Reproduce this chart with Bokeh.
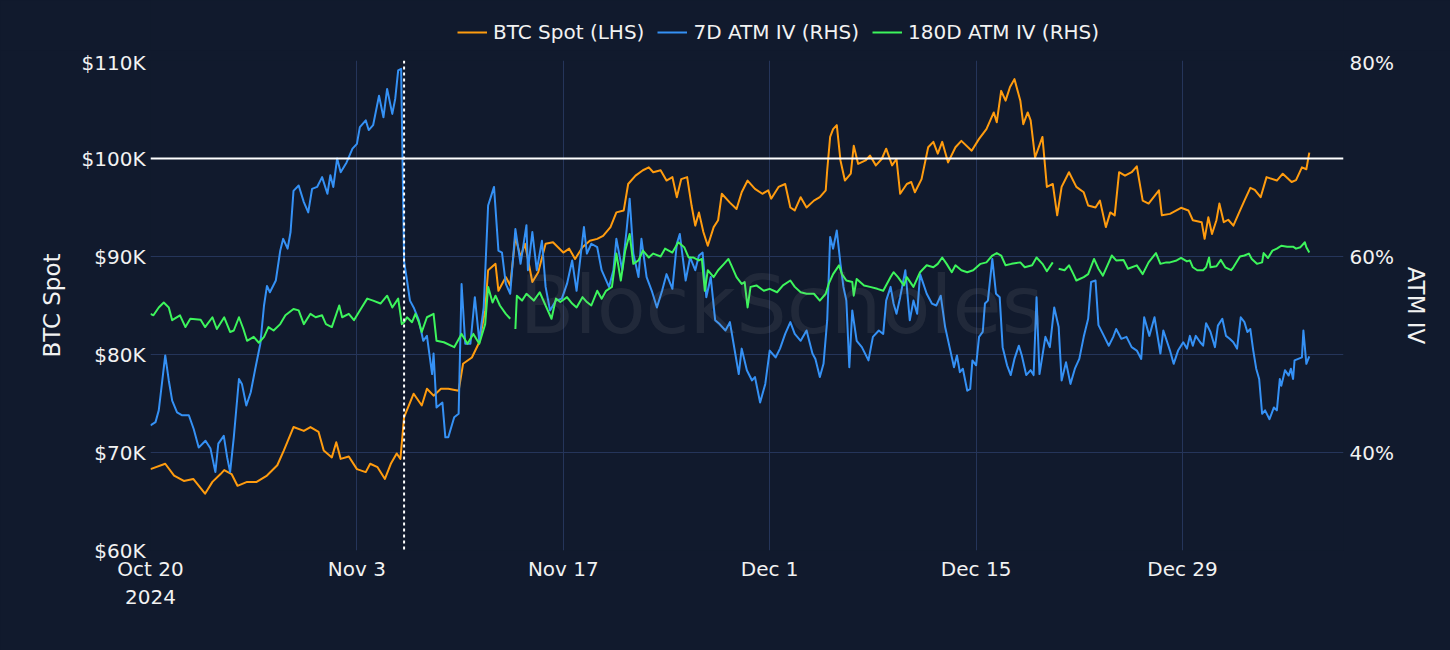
import numpy as np
import pandas as pd
from bokeh.plotting import figure
from bokeh.layouts import column
from bokeh.models import (Range1d, LinearAxis, FixedTicker, PrintfTickFormatter,
                          Span, Legend, LegendItem, Label, ColumnDataSource)
from bokeh.embed import file_html
from bokeh.resources import INLINE

# ---------------- data ----------------
START = "2024-10-20"   # day 0

spot_days = [0.0, 1.0, 1.6, 2.26, 2.9, 3.7, 4.2, 4.75, 5.0, 5.5, 5.9, 6.55, 7.2, 7.9, 8.6, 9.04, 9.7,
             10.4, 10.85, 11.4, 11.75, 12.3, 12.6, 12.9, 13.45, 14.0, 14.6, 14.9, 15.4, 15.9, 16.3,
             16.7, 16.95, 17.2, 17.85, 18.4, 18.75, 19.2, 19.7, 20.2, 20.9, 21.2, 21.8, 22.3, 22.7,
             22.9, 23.4, 23.6, 24.1, 24.4, 24.75, 25.1, 25.4, 25.9, 26.3, 26.8, 27.3, 28.0, 28.4,
             28.8, 29.3, 29.8, 30.3, 30.7, 31.2, 31.6, 32.1, 32.4, 32.9, 33.4, 33.8, 34.1, 34.6,
             35.0, 35.4, 35.7, 36.0, 36.4, 36.7, 36.95, 37.2, 37.5, 37.8, 38.2, 38.5, 38.75, 39.3,
             39.75, 40.1, 40.5, 41.0, 41.5, 41.9, 42.1, 42.6, 43.05, 43.4, 43.7, 44.1, 44.5, 45.0,
             45.4, 45.8, 45.9, 46.1, 46.3, 46.55, 46.8, 47.1, 47.5, 47.7, 48.0, 48.5, 48.8, 49.2,
             49.6, 49.9, 50.3, 50.6, 50.85, 51.3, 51.6, 51.85, 52.3, 52.75, 53.1, 53.4, 53.7, 54.1,
             54.6, 55.0, 55.7, 56.2, 56.7, 57.2, 57.4, 57.7, 58.0, 58.3, 58.6, 59.0, 59.2, 59.5,
             59.7, 60.0, 60.5, 60.8, 61.2, 61.5, 61.8, 62.3, 62.8, 63.3, 63.6, 64.1, 64.4, 64.8,
             65.1, 65.4, 65.7, 66.1, 66.55, 66.9, 67.3, 67.7, 68.4, 68.6, 69.15, 69.9, 70.4, 70.7,
             71.3, 71.5, 71.75, 72.0, 72.3, 72.5, 72.8, 73.1, 73.45, 73.8, 74.2, 74.6, 74.9, 75.3,
             75.7, 76.4, 76.8, 77.4, 77.7, 78.1, 78.4, 78.6]
spot_k = [68.3, 68.85, 67.65, 67.1, 67.3, 65.8, 67.0, 67.8, 68.2, 67.8, 66.6, 67.0, 67.0, 67.65, 68.7,
          70.2, 72.6, 72.2, 72.6, 72.1, 70.2, 69.5, 71.05, 69.35, 69.6, 68.3, 68.0, 68.85, 68.5,
          67.3, 68.85, 69.9, 69.35, 73.6, 76.0, 74.8, 76.5, 75.8, 76.5, 76.5, 76.3, 79.05, 79.7,
          81.25, 84.5, 88.6, 89.25, 86.5, 87.9, 87.05, 92.0, 89.95, 91.3, 87.4, 88.4, 91.3, 91.45,
          90.4, 90.8, 89.75, 90.95, 91.6, 91.8, 92.1, 93.0, 94.5, 94.7, 97.4, 98.25, 98.8, 99.1,
          98.6, 98.8, 97.75, 98.1, 96.05, 97.9, 98.1, 95.2, 93.15, 94.5, 92.5, 91.1, 93.0, 93.7,
          96.4, 95.5, 94.85, 96.55, 97.75, 96.9, 96.4, 96.75, 95.9, 97.1, 97.4, 95.0, 94.7, 96.05,
          95.0, 95.7, 96.05, 96.75, 98.8, 102.2, 103.0, 103.4, 99.8, 97.75, 98.45, 101.3, 99.45,
          99.8, 100.3, 99.3, 99.95, 101.0, 99.3, 99.95, 96.4, 97.4, 97.6, 96.55, 97.9, 101.15,
          101.7, 100.5, 101.7, 99.6, 101.15, 101.8, 100.8, 102.0, 103.0, 104.7, 103.7, 106.9,
          105.9, 107.3, 108.1, 105.9, 103.5, 104.7, 103.9, 100.1, 102.2, 97.1, 97.4, 94.2, 97.1,
          98.6, 97.1, 96.55, 95.2, 95.0, 95.7, 93.0, 94.5, 94.2, 98.6, 98.25, 98.6, 99.2, 95.7,
          95.4, 96.75, 94.2, 94.35, 94.97, 94.7, 93.7, 93.5, 91.8, 94.0, 92.3, 93.7, 95.4, 93.5,
          93.75, 93.15, 94.35, 95.7, 97.0, 96.8, 96.05, 98.1, 97.75, 98.45, 97.6, 97.8, 99.1,
          98.9, 100.6]

iv7_days = [0.0, 0.34, 0.56, 0.8, 1.0, 1.24, 1.47, 1.8, 2.15, 2.6, 2.93, 3.27, 3.73, 4.07, 4.4, 4.6,
            4.97, 5.2, 5.4, 5.65, 6.0, 6.2, 6.5, 6.8, 7.1, 7.45, 7.7, 7.9, 8.1, 8.5, 8.8, 9.0, 9.3,
            9.5, 9.7, 10.05, 10.4, 10.7, 10.96, 11.3, 11.64, 12.0, 12.2, 12.4, 12.66, 12.9, 13.3,
            13.7, 14.0, 14.2, 14.6, 14.8, 15.1, 15.5, 15.8, 16.05, 16.4, 16.6, 16.8, 17.0, 17.05,
            17.2, 17.4, 17.6, 17.85, 18.2, 18.5, 18.75, 19.1, 19.2, 19.4, 19.8, 20.0, 20.2, 20.6,
            20.9, 21.1, 21.35, 21.7, 22.0, 22.3, 22.6, 22.9, 23.05, 23.3, 23.6, 23.84, 24.1, 24.4,
            24.75, 25.1, 25.5, 25.6, 25.9, 26.2, 26.55, 26.8, 27.1, 27.5, 27.9, 28.25, 28.6, 28.9,
            29.4, 29.6, 29.9, 30.3, 30.6, 31.1, 31.4, 31.6, 32.0, 32.3, 32.5, 32.75, 33.1, 33.3,
            33.65, 34.0, 34.35, 34.7, 35.0, 35.4, 35.7, 35.9, 36.3, 36.6, 36.95, 37.2, 37.45, 37.7,
            38.0, 38.3, 38.6, 39.0, 39.3, 39.55, 39.9, 40.1, 40.45, 40.8, 41.0, 41.35, 41.7, 42.0,
            42.4, 42.7, 43.05, 43.4, 43.7, 44.1, 44.5, 44.9, 45.1, 45.4, 45.65, 45.9, 46.1, 46.3,
            46.55, 46.8, 47.0, 47.2, 47.4, 47.6, 47.9, 48.25, 48.7, 49.0, 49.4, 49.7, 49.9, 50.2,
            50.4, 50.6, 50.85, 51.2, 51.5, 51.75, 52.0, 52.2, 52.65, 53.0, 53.3, 53.6, 53.9, 54.2,
            54.5, 54.7, 54.9, 55.1, 55.4, 55.6, 55.75, 56.0, 56.2, 56.45, 56.6, 56.8, 57.1, 57.35,
            57.6, 57.8, 58.1, 58.35, 58.6, 58.9, 59.1, 59.4, 59.7, 59.9, 60.1, 60.3, 60.7, 61.0,
            61.3, 61.6, 61.8, 62.1, 62.4, 62.7, 63.0, 63.3, 63.6, 63.8, 64.1, 64.3, 64.6, 65.0,
            65.3, 65.5, 65.85, 66.2, 66.55, 66.9, 67.2, 67.4, 67.75, 68.1, 68.5, 68.7, 69.15, 69.4,
            69.7, 70.05, 70.3, 70.5, 70.7, 70.9, 71.2, 71.4, 71.6, 71.9, 72.2, 72.4, 72.7, 72.95,
            73.2, 73.45, 73.7, 73.95, 74.2, 74.4, 74.6, 74.8, 75.0, 75.2, 75.4, 75.6, 75.9, 76.2,
            76.4, 76.6, 76.7, 76.95, 77.2, 77.35, 77.5, 77.6, 77.85, 78.1, 78.2, 78.4, 78.6]
iv7 = [42.76, 43.1, 44.3, 47.35, 49.9, 47.35, 45.3, 44.1, 43.8, 43.8, 42.4, 40.5, 41.2, 40.4, 38.0,
       40.9, 41.7, 39.5, 38.0, 41.55, 47.5, 47.0, 44.8, 46.15, 48.5, 51.1, 55.0, 57.0, 56.35, 57.55,
       60.6, 61.8, 60.8, 62.5, 66.7, 67.25, 65.55, 64.5, 66.9, 67.1, 68.1, 66.4, 68.3, 67.1, 70.0,
       68.6, 69.6, 71.0, 71.5, 73.2, 73.9, 72.9, 73.4, 76.4, 74.2, 77.1, 74.55, 76.1, 79.0, 79.15,
       74.2, 59.5, 57.55, 55.5, 54.8, 53.5, 51.4, 51.9, 48.0, 50.1, 44.6, 45.1, 41.55, 41.55, 43.6,
       43.95, 57.2, 51.1, 51.1, 55.85, 51.4, 54.8, 65.2, 65.9, 67.1, 60.6, 60.4, 57.2, 56.2, 62.8,
       59.25, 63.2, 58.6, 62.5, 58.6, 61.6, 56.9, 54.5, 55.5, 55.7, 57.2, 59.6, 56.5, 63.0, 60.3,
       61.3, 60.95, 58.6, 56.9, 58.6, 61.8, 58.6, 62.8, 65.9, 60.3, 57.9, 61.8, 57.9, 56.5, 54.8,
       56.5, 58.2, 56.7, 61.3, 62.3, 57.55, 59.9, 58.6, 60.1, 60.4, 55.85, 57.9, 53.5, 53.1, 52.45,
       53.3, 51.1, 48.0, 50.6, 48.4, 47.35, 47.7, 45.1, 47.0, 50.4, 49.7, 50.6, 52.1, 53.3, 52.1,
       51.4, 52.45, 50.1, 49.55, 47.7, 49.05, 53.5, 62.0, 60.8, 62.65, 59.25, 56.9, 55.5, 48.7,
       54.5, 51.4, 50.75, 49.4, 51.8, 52.45, 52.1, 55.5, 56.9, 55.2, 54.15, 55.85, 58.6, 53.5,
       55.5, 54.15, 58.2, 56.2, 55.2, 55.0, 56.0, 52.8, 50.75, 48.7, 49.9, 48.2, 48.55, 46.3,
       46.5, 49.4, 48.9, 51.8, 52.3, 55.2, 55.5, 59.75, 56.2, 55.85, 50.75, 48.9, 47.9, 49.55,
       50.9, 49.9, 47.9, 48.4, 47.9, 55.85, 48.0, 51.8, 50.75, 54.8, 52.8, 47.35, 49.2, 47.0,
       48.55, 49.55, 51.8, 53.65, 57.4, 57.55, 53.0, 52.1, 50.9, 51.8, 52.6, 51.6, 51.8, 50.75,
       50.4, 49.55, 53.8, 51.9, 53.8, 50.1, 52.45, 50.4, 49.05, 50.4, 51.25, 50.6, 51.9, 50.9,
       51.9, 51.25, 50.9, 53.2, 52.3, 50.75, 52.95, 53.65, 51.9, 51.6, 51.25, 50.6, 53.8, 53.3,
       52.3, 52.6, 50.4, 48.55, 47.5, 43.95, 44.3, 43.4, 44.6, 44.3, 47.5, 46.8, 48.4, 47.85,
       48.55, 47.5, 49.4, 49.55, 49.7, 52.45, 49.05, 49.8]

iv180_days = [0.0, 0.2, 0.56, 0.9, 1.24, 1.47, 2.0, 2.37, 2.7, 3.4, 3.7, 4.2, 4.5, 5.0, 5.4, 5.65,
              6.0, 6.3, 6.55, 7.0, 7.35, 7.7, 8.0, 8.35, 8.8, 9.15, 9.7, 10.05, 10.4, 10.85, 11.2,
              11.64, 11.9, 12.3, 12.8, 13.0, 13.45, 13.8, 14.2, 14.7, 15.1, 15.6, 16.05, 16.4, 16.8,
              17.05, 17.2, 17.4, 17.74, 17.97, 18.2, 18.4, 18.75, 19.2, 19.4, 19.9, 20.6, 21.1,
              21.5, 21.9, 22.3, 22.7, 22.9, 23.2, 23.4, 23.7, 24.1, 24.4, 24.6, 24.75, 24.85, 25.2,
              25.5, 26.0, 26.4, 26.9, 27.2, 27.5, 27.8, 28.25, 28.6, 28.9, 29.3, 29.6, 29.9, 30.3,
              30.6, 30.9, 31.3, 31.6, 31.9, 32.2, 32.5, 32.75, 33.1, 33.4, 33.8, 34.1, 34.6, 34.9,
              35.4, 35.8, 36.2, 36.5, 36.8, 37.2, 37.4, 37.6, 37.8, 38.2, 38.5, 38.9, 39.2, 39.4,
              39.75, 40.1, 40.3, 40.5, 40.7, 41.1, 41.6, 42.0, 42.5, 42.9, 43.4, 43.7, 44.1, 44.5,
              45.0, 45.4, 45.8, 46.0, 46.3, 46.7, 46.9, 47.2, 47.6, 47.7, 47.9, 48.4, 48.8, 49.3,
              49.7, 50.2, 50.4, 50.7, 51.1, 51.3, 51.75, 52.2, 52.65, 53.1, 53.4, 53.7, 54.0, 54.35,
              54.6, 55.0, 55.4, 55.8, 56.3, 56.7, 57.1, 57.4, 57.7, 58.0, 58.4, 59.0, 59.3, 59.8,
              60.1, 60.5, 60.8, 61.2, 61.4, 61.6, 62.0, 62.3, 62.6, 62.8, 63.3, 63.6, 64.0, 64.3,
              64.6, 65.0, 65.2, 65.5, 66.0, 66.3, 66.9, 67.3, 67.7, 68.2, 68.5, 68.9, 69.15, 69.6,
              69.9, 70.3, 70.5, 70.7, 71.0, 71.4, 71.6, 71.8, 71.9, 72.3, 72.6, 72.9, 73.3, 73.45,
              73.9, 74.2, 74.5, 74.7, 75.05, 75.4, 75.5, 75.8, 76.1, 76.4, 76.7, 77.1, 77.5, 77.7,
              78.0, 78.3, 78.4, 78.6]
iv180 = [54.15, 54.0, 54.8, 55.3, 54.8, 53.5, 54.0, 52.8, 53.65, 53.55, 52.8, 53.8, 52.6, 53.8, 52.3,
         52.45, 53.8, 52.6, 51.4, 51.8, 51.2, 51.8, 52.8, 52.45, 53.1, 54.0, 54.65, 54.5, 53.1,
         54.15, 53.8, 54.0, 53.1, 52.8, 55.0, 53.8, 54.15, 53.5, 54.5, 55.7, 55.5, 55.2, 56.0, 54.8,
         55.7, 53.1, 53.3, 53.8, 53.3, 54.15, 53.3, 52.3, 53.8, 54.15, 51.4, 51.25, 50.75, 52.1,
         51.1, 52.1, 51.1, 53.1, 56.9, 55.3, 56.0, 55.0, 54.15, 53.65, float("nan"), 52.6, 56.0,
         55.5, 56.2, 55.5, 56.35, 54.65, 53.65, 55.7, 55.35, 55.85, 55.2, 54.8, 55.85, 55.35, 55.0,
         56.5, 55.7, 56.5, 56.9, 60.3, 57.55, 60.6, 62.3, 59.25, 59.6, 60.6, 59.9, 60.3, 60.0, 60.8,
         60.4, 61.45, 60.95, 59.9, 59.9, 59.6, 59.75, 56.5, 58.6, 57.9, 58.6, 59.25, 59.75, 59.1,
         57.9, 57.2, 57.4, 54.8, 56.9, 57.05, 56.5, 56.7, 56.35, 57.05, 57.55, 56.9, 56.35, 56.2,
         56.2, 55.5, 56.2, 57.2, 58.2, 59.1, 58.2, 57.55, 57.4, 56.0, 57.7, 57.05, 56.9, 56.7,
         56.5, 57.9, 58.4, 57.9, 57.05, 57.9, 56.9, 58.4, 59.1, 58.9, 59.25, 59.9, 59.25, 58.4,
         59.1, 58.6, 58.4, 58.6, 59.25, 59.4, 60.1, 60.35, 60.1, 59.1, 59.25, 59.4, 58.9, 59.1,
         59.9, 59.25, 58.5, 59.4, float("nan"), 58.75, 58.6, 59.1, 58.2, 57.55, 57.9, 58.2, 59.75,
         58.75, 58.05, 59.4, 60.1, 59.6, 59.65, 58.75, 59.1, 58.2, 59.4, 60.35, 59.25, 59.4, 59.4,
         59.6, 59.85, 59.5, 59.6, 58.9, 58.6, 58.6, 58.9, 59.9, 58.9, 59.0, 59.65, 58.9, 58.6,
         58.9, 60.0, 60.1, 60.3, 59.75, 59.25, 59.4, 60.35, 59.85, 60.6, 60.8, 61.1, 61.0, 61.0,
         60.8, 60.95, 61.45, 60.95, 60.4]

event_day = 17.2          # vertical dotted marker
ref_level_k = 100         # horizontal reference line ($100K)
x_end_day = 80.92

x_tick_dates = ["2024-10-20", "2024-11-03", "2024-11-17", "2024-12-01", "2024-12-15", "2024-12-29"]
x_tick_labels = ["Oct 20\n2024", "Nov 3", "Nov 17", "Dec 1", "Dec 15", "Dec 29"]
spot_ticks = [60, 70, 80, 90, 100, 110]
iv_ticks = [40, 60, 80]

series_names = ["BTC Spot (LHS)", "7D ATM IV (RHS)", "180D ATM IV (RHS)"]
series_colors = ["#ff9c0f", "#3591f5", "#3df55c"]

# ---------------- build ----------------
BG = "#111a2d"
GRID = "#25355a"
FONT = "DejaVu Sans"
TXT = "#f2f2f2"
LW = 2
FS = "20px"

t0 = pd.Timestamp(START)
def to_dt(days):
    return t0 + pd.to_timedelta(np.asarray(days, dtype=float), unit="D")

def ms(ts):
    return float(pd.Timestamp(ts).value // 10**6)

W = 1450
LEG_H = 50
H = 600
ML, MR, MT, MB = 150, 107, 10, 100

src_spot = ColumnDataSource(dict(x=to_dt(spot_days), y=spot_k))
src_7 = ColumnDataSource(dict(x=to_dt(iv7_days), y=iv7))
src_180 = ColumnDataSource(dict(x=to_dt(iv180_days), y=iv180))
sources = [src_spot, src_7, src_180]

# ---- legend strip (top); its lines use the same sources but lie outside its view ----
leg = figure(width=W, height=LEG_H, x_range=Range1d(0, 1), y_range=Range1d(0, 1),
             output_backend="svg", toolbar_location=None,
             x_axis_location=None, y_axis_location=None)
leg.background_fill_color = BG
leg.border_fill_color = BG
leg.outline_line_color = None
leg.grid.visible = False
leg.min_border = 0
leg_renderers = [leg.line("x", "y", source=s, color=c, line_width=LW)
                 for s, c in zip(sources, series_colors)]
legend = Legend(items=[LegendItem(label=n, renderers=[r]) for n, r in zip(series_names, leg_renderers)],
                orientation="horizontal", location=(307, 6),
                glyph_width=30, glyph_height=24, label_standoff=6, spacing=13,
                padding=0, margin=0, label_height=24,
                label_text_font=FONT, label_text_font_size=FS, label_text_color=TXT,
                background_fill_alpha=0, border_line_alpha=0)
leg.add_layout(legend)

# ---- main chart ----
p = figure(width=W, height=H, x_axis_type="datetime",
           x_range=Range1d(to_dt([0])[0], to_dt([x_end_day])[0]),
           y_range=Range1d(60, 110),
           output_backend="svg", toolbar_location=None)
p.extra_y_ranges = {"iv": Range1d(30, 80)}

p.background_fill_color = BG
p.border_fill_color = BG
p.outline_line_color = None
p.min_border_left = ML
p.min_border_right = MR
p.min_border_top = MT
p.min_border_bottom = MB

p.line("x", "y", source=src_spot, color=series_colors[0], line_width=LW, line_join="round")
p.line("x", "y", source=src_7, color=series_colors[1], line_width=LW, line_join="round",
       y_range_name="iv")
p.line("x", "y", source=src_180, color=series_colors[2], line_width=LW, line_join="round",
       y_range_name="iv")

p.add_layout(Span(location=ref_level_k, dimension="width", line_color="white", line_width=2))
p.add_layout(Span(location=to_dt([event_day])[0], dimension="height", line_color="white",
                  line_width=2, line_dash="3 3"))

# x axis
xt = [ms(d) for d in x_tick_dates]
xax = p.xaxis[0]
xax.ticker = FixedTicker(ticks=xt)
xax.major_label_overrides = {k: v for k, v in zip(xt, x_tick_labels)}
p.xgrid.ticker = FixedTicker(ticks=xt)

# left axis
yax = p.yaxis[0]
yax.ticker = FixedTicker(ticks=spot_ticks)
yax.formatter = PrintfTickFormatter(format="$%dK")
yax.axis_label = "BTC Spot"
p.ygrid.ticker = FixedTicker(ticks=spot_ticks)

# right axis
rax = LinearAxis(y_range_name="iv", ticker=FixedTicker(ticks=iv_ticks),
                 formatter=PrintfTickFormatter(format="%d%%"), axis_label="ATM IV")
p.add_layout(rax, "right")

for ax in [xax, yax, rax]:
    ax.axis_line_color = None
    ax.major_tick_line_color = None
    ax.minor_tick_line_color = None
    ax.major_tick_in = 0
    ax.major_tick_out = 0
    ax.major_label_text_color = TXT
    ax.major_label_text_font = FONT
    ax.major_label_text_font_size = FS
    ax.axis_label_text_color = TXT
    ax.axis_label_text_font = FONT
    ax.axis_label_text_font_size = "23px"
    ax.axis_label_text_font_style = "normal"
xax.major_label_standoff = 6
yax.major_label_standoff = 5
rax.major_label_standoff = 6
yax.axis_label_standoff = 13
rax.axis_label_standoff = 6

for g in [p.xgrid, p.ygrid]:
    g.grid_line_color = GRID
    g.grid_line_width = 1

# watermark
p.add_layout(Label(x=631, y=245, x_units="screen", y_units="screen", text="BlockScholes",
                   text_font=FONT, text_font_size="80px", text_color="#9a9a9a", text_alpha=0.12,
                   text_align="center", text_baseline="middle"))

layout = column(leg, p, spacing=0)
layout.styles = {"background-color": BG}

html = file_html(layout, INLINE, title="BTC Spot and ATM IV")
html = html.replace("</head>", "<style>html,body{background:%s;}</style></head>" % BG, 1)
open("out.html", "w").write(html)
